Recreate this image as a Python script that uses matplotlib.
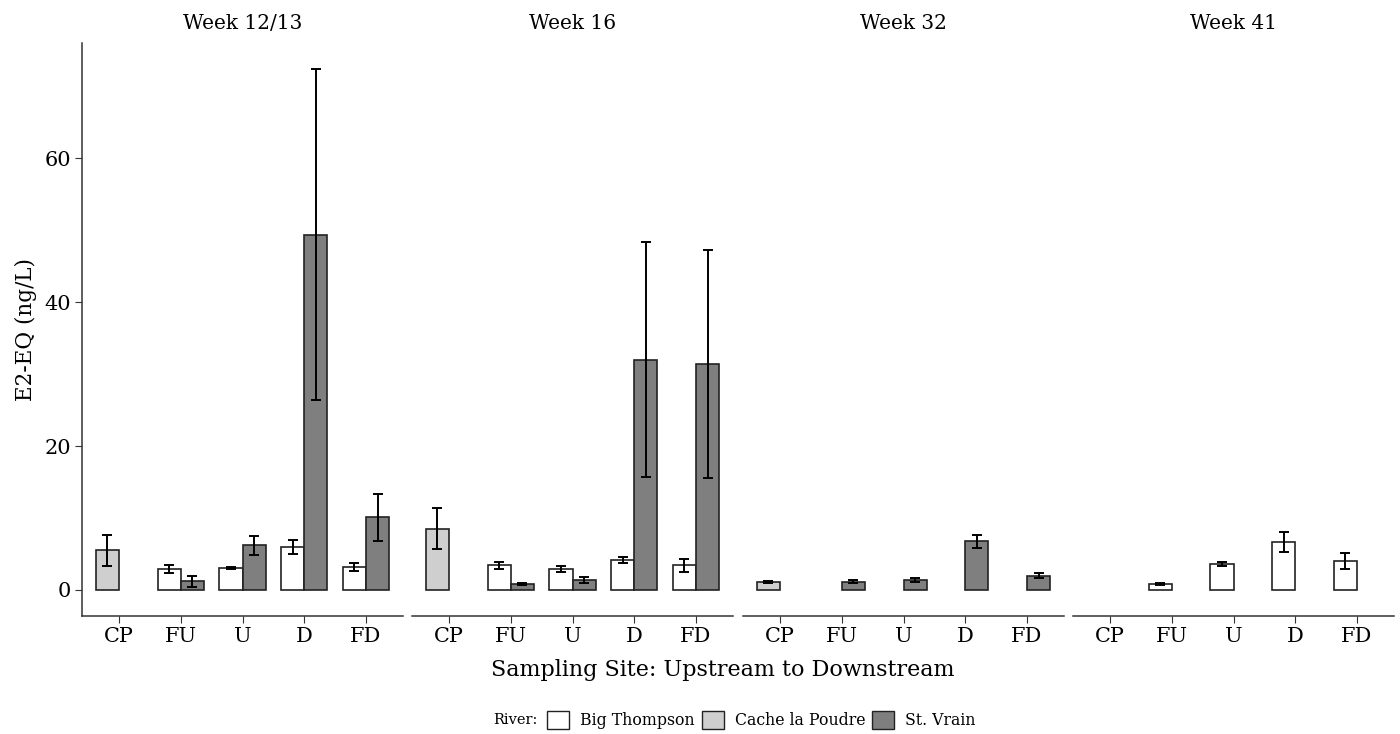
import numpy as np
import matplotlib.pyplot as plt
from matplotlib.patches import Patch

plt.rcParams['font.family'] = ['DejaVu Serif']

weeks = ['Week 12/13', 'Week 16', 'Week 32', 'Week 41']
sites = ['CP', 'FU', 'U', 'D', 'FD']
rivers = ['Big Thompson', 'Cache la Poudre', 'St. Vrain']
colors = ['#FFFFFF', '#CFCFCF', '#7F7F7F']
nan = np.nan

# mean E2-EQ per week (rows) and site (columns)
big_thompson = [[nan, 2.9, 3.05, 6.0, 3.2],
                [nan, 3.4, 2.9, 4.2, 3.4],
                [nan, nan, nan, nan, nan],
                [nan, 0.85, 3.6, 6.7, 4.0]]
big_thompson_se = [[nan, 0.6, 0.2, 1.0, 0.5],
                   [nan, 0.5, 0.4, 0.4, 0.95],
                   [nan, nan, nan, nan, nan],
                   [nan, 0.1, 0.3, 1.4, 1.15]]
cache_poudre = [[5.5, nan, nan, nan, nan],
                [8.5, nan, nan, nan, nan],
                [1.1, nan, nan, nan, nan],
                [nan, nan, nan, nan, nan]]
cache_poudre_se = [[2.2, nan, nan, nan, nan],
                   [2.85, nan, nan, nan, nan],
                   [0.15, nan, nan, nan, nan],
                   [nan, nan, nan, nan, nan]]
st_vrain = [[nan, 1.2, 6.2, 49.4, 10.1],
            [nan, 0.85, 1.4, 32.0, 31.4],
            [nan, 1.15, 1.4, 6.8, 2.0],
            [nan, nan, nan, nan, nan]]
st_vrain_se = [[nan, 0.75, 1.3, 23.0, 3.3],
               [nan, 0.1, 0.45, 16.3, 15.8],
               [nan, 0.2, 0.25, 0.9, 0.4],
               [nan, nan, nan, nan, nan]]

means = [np.array(big_thompson), np.array(cache_poudre), np.array(st_vrain)]
ses = [np.array(big_thompson_se), np.array(cache_poudre_se), np.array(st_vrain_se)]
offsets = [-0.5, -0.5, 0.5]  # Big Thompson / Cache la Poudre left, St. Vrain right
w = 0.375

top = np.nanmax([np.nanmax(m + s) for m, s in zip(means, ses)])
ylim = (-0.05 * top, top * 1.05)

fig = plt.figure(figsize=(14, 7.34), dpi=100)
lefts = [82, 412, 743, 1073]
x = np.arange(1, len(sites) + 1)

for i, week in enumerate(weeks):
    ax = fig.add_axes([lefts[i] / 1400, 1 - 616 / 734, 321 / 1400, (616 - 43) / 734])
    for r in range(len(rivers)):
        m = means[r][i]
        s = ses[r][i]
        ok = ~np.isnan(m)
        xp = x[ok] + offsets[r] * w
        ax.bar(xp, m[ok], width=w, color=colors[r], edgecolor='#222222',
               linewidth=1.2, zorder=2)
        ax.errorbar(xp, m[ok], yerr=s[ok], fmt='none', ecolor='black',
                    elinewidth=1.4, capsize=3.3, capthick=1.4, zorder=3)
    ax.set_xlim(0.4, 5.6)
    ax.set_ylim(*ylim)
    ax.set_xticks(x)
    ax.set_xticklabels(sites, fontsize=15)
    ax.set_title(week, fontsize=14.5, pad=10)
    for sp in ['top', 'right']:
        ax.spines[sp].set_visible(False)
    ax.spines['bottom'].set_color('#333333')
    ax.spines['bottom'].set_linewidth(1.1)
    ax.tick_params(axis='x', length=5, color='#333333', pad=3)
    if i == 0:
        ax.set_yticks([0, 20, 40, 60])
        ax.tick_params(axis='y', labelsize=15, length=5, color='#333333', pad=3)
        ax.spines['left'].set_color('#333333')
        ax.spines['left'].set_linewidth(1.1)
        ax.set_ylabel('E2-EQ (ng/L)', fontsize=15.5, labelpad=5)
    else:
        ax.spines['left'].set_visible(False)
        ax.set_yticks([])

fig.text(723 / 1400, 1 - 670 / 734, 'Sampling Site: Upstream to Downstream',
         ha='center', va='center', fontsize=16)

handles = [Patch(facecolor=c, edgecolor='#222222', linewidth=1.0) for c in colors]
fig.text(538 / 1400, 1 - 720 / 734, 'River:', ha='right', va='center', fontsize=10.5)
fig.legend(handles, rivers, loc='center left', bbox_to_anchor=(536 / 1400, 1 - 720 / 734),
           ncol=3, frameon=False, fontsize=11.3, handlelength=1.4, handleheight=1.4,
           handletextpad=0.7, columnspacing=0.45, borderpad=0.2)

plt.savefig('out.png', dpi=100)
